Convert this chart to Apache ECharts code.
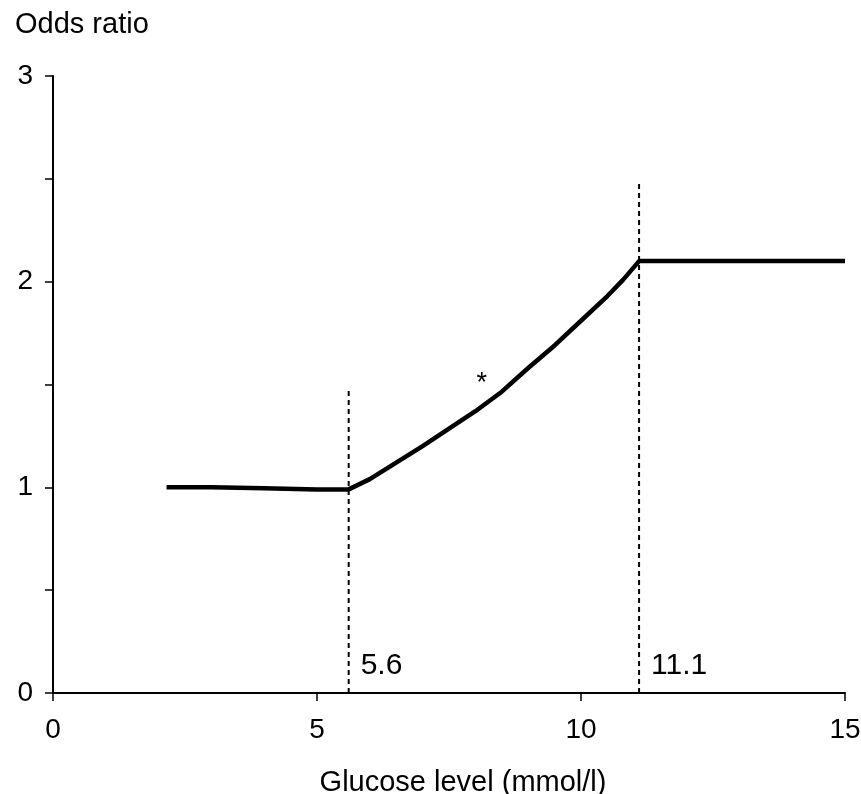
<!DOCTYPE html>
<html>
<head>
<meta charset="utf-8">
<script src="https://cdn.jsdelivr.net/npm/echarts@6/dist/echarts.min.js"></script>
<style>html,body{margin:0;padding:0;background:#fff}#c{width:861px;height:794px}</style>
</head>
<body>
<div id="c"></div>
<script>
// Glucose level (mmol/l) and odds ratio
var glucose = [2.15, 3, 4, 5, 5.6, 6, 6.5, 7, 7.5, 8, 8.5, 9, 9.5, 10, 10.5, 10.8, 11.1, 12, 13, 14, 15];
var oddsRatio = [1.0, 1.0, 0.995, 0.99, 0.99, 1.04, 1.12, 1.2, 1.285, 1.37, 1.465, 1.58, 1.69, 1.81, 1.93, 2.01, 2.10, 2.10, 2.10, 2.10, 2.10];
// Threshold reference lines
var thresholds = [5.6, 11.1];
var thresholdTops = [1.47, 2.49];
var thresholdLabels = ['5.6', '11.1'];
var thresholdLabelY = 0.135;
// Asterisk annotation
var starPoint = [8.12, 1.505];
// Axis ticks
var xTicks = [0, 5, 10, 15];
var yLabelled = [0, 1, 2, 3];

var FONT = 'Liberation Sans, Arial, sans-serif';
var chart = echarts.init(document.getElementById('c'), null, {renderer: 'canvas'});

var series = [];
series.push({
  type: 'line',
  data: glucose.map(function (g, i) { return [g, oddsRatio[i]]; }),
  symbol: 'none',
  lineStyle: {color: '#000', width: 4.5, join: 'round'},
  z: 5
});
thresholds.forEach(function (t, i) {
  series.push({
    type: 'line',
    data: [[t, 0], [t, thresholdTops[i]]],
    symbol: 'none',
    lineStyle: {color: '#000', width: 2, type: [5, 4]},
    z: 3
  });
});
series.push({
  type: 'scatter',
  symbolSize: 0,
  itemStyle: {opacity: 1},
  data: thresholds.map(function (t, i) { return {value: [t, thresholdLabelY], name: thresholdLabels[i]}; }),
  label: {
    show: true, position: 'right', distance: 12,
    formatter: function (p) { return p.name; },
    color: '#000', opacity: 1, fontFamily: FONT, fontSize: 30
  },
  silent: true
});
series.push({
  type: 'scatter',
  symbolSize: 0,
  itemStyle: {opacity: 1},
  data: [{value: starPoint}],
  label: {
    show: true, position: 'inside', formatter: '*',
    color: '#000', opacity: 1, fontFamily: FONT, fontSize: 27
  },
  silent: true
});

chart.setOption({
  animation: false,
  backgroundColor: '#fff',
  title: {
    text: 'Odds ratio', left: 10, top: 5,
    textStyle: {fontFamily: FONT, fontSize: 29, fontWeight: 'normal', color: '#000'}
  },
  grid: {left: 53, right: 16, top: 76, bottom: 101, containLabel: false, outerBoundsMode: 'none'},
  xAxis: {
    type: 'value', min: 0, max: 15, interval: 5,
    name: 'Glucose level (mmol/l)', nameLocation: 'middle', nameGap: 75,
    nameTextStyle: {fontFamily: FONT, fontSize: 29, color: '#000', padding: [0, 0, 0, 28]},
    axisLine: {show: true, onZero: false, lineStyle: {color: '#000', width: 2}},
    axisTick: {show: true, length: 8, lineStyle: {color: '#000', width: 1.5}},
    axisLabel: {fontFamily: FONT, fontSize: 28, color: '#000', margin: 23,
      formatter: function (v) { return xTicks.indexOf(v) >= 0 ? String(v) : ''; }},
    splitLine: {show: false}
  },
  yAxis: {
    type: 'value', min: 0, max: 3, interval: 0.5,
    axisLine: {show: true, onZero: false, lineStyle: {color: '#000', width: 2}},
    axisTick: {show: true, length: 8, lineStyle: {color: '#000', width: 1.5}},
    axisLabel: {fontFamily: FONT, fontSize: 28, color: '#000', margin: 20,
      formatter: function (v) { return yLabelled.indexOf(v) >= 0 ? String(v) : ''; }},
    splitLine: {show: false}
  },
  series: series
});
</script>
</body>
</html>
